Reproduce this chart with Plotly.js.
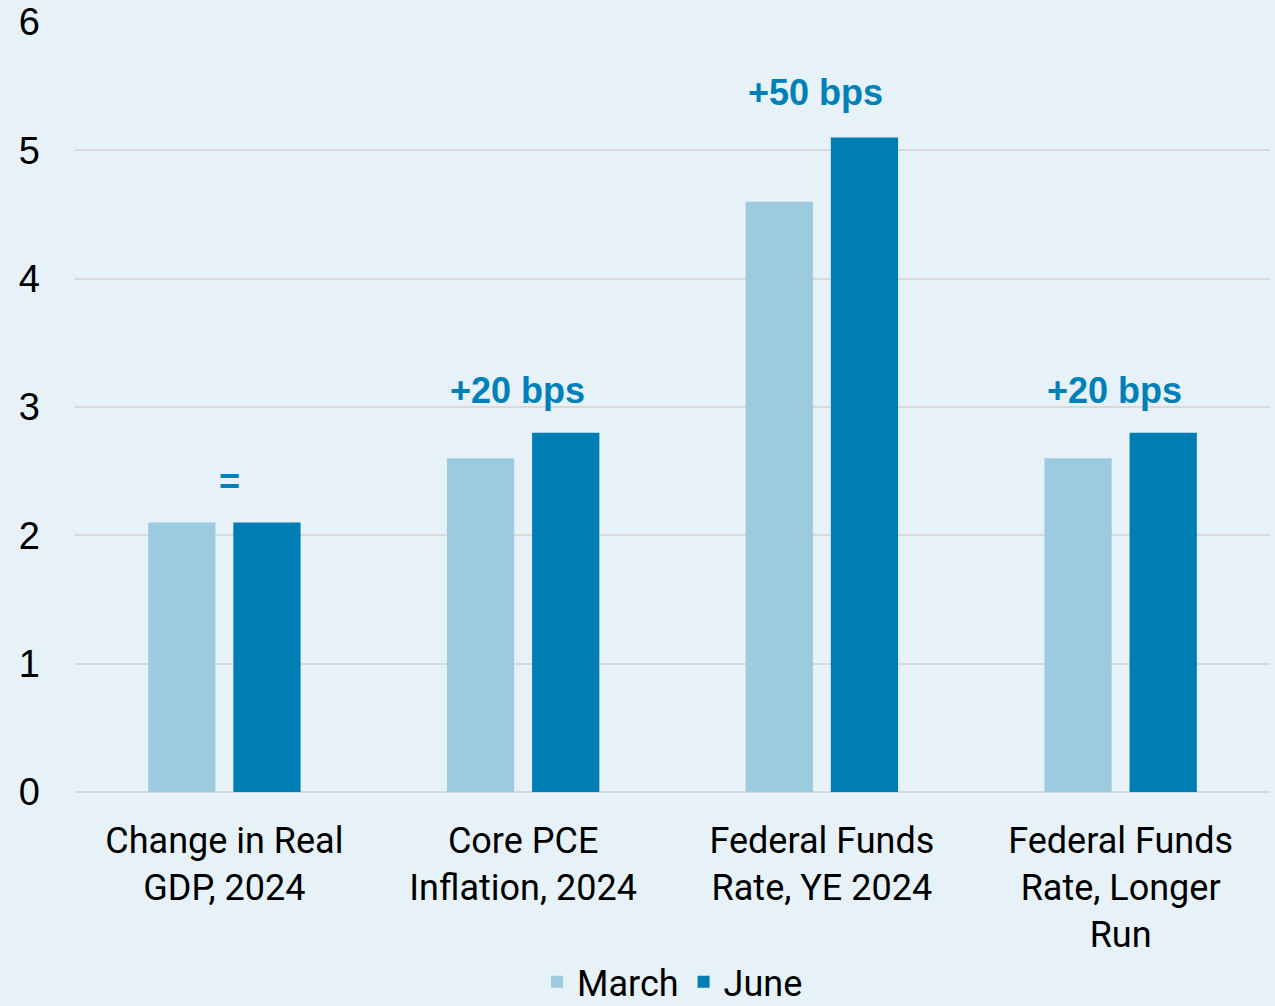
<!DOCTYPE html>
<html><head><meta charset="utf-8">
<script src="https://cdn.plot.ly/plotly-3.0.1.min.js"></script>
<style>html,body{margin:0;padding:0;background:#e6f1f8;}#chart{width:1275px;height:1006px;}</style>
</head><body><div id="chart"></div>
<script>
const categories = ["Change in Real<br>GDP, 2024","Core PCE<br>Inflation, 2024","Federal Funds<br>Rate, YE 2024","Federal Funds<br>Rate, Longer<br>Run"];
const march = [2.1, 2.6, 4.6, 2.6];
const june = [2.1, 2.8, 5.1, 2.8];
const changeLabels = ["=", "+20 bps", "+50 bps", "+20 bps"];
const labelY = [2.42, 3.13, 5.45, 3.13];

const traces = [
  {type:"bar", name:"March", x:categories, y:march, marker:{color:"#9ccbe0"}},
  {type:"bar", name:"June", x:categories, y:june, marker:{color:"#007db3"}}
];
const shifts = [5, -6, -6, -6];
const annotations = categories.map((c,i)=>({
  x:c, y:labelY[i], xref:"x", yref:"y", text:changeLabels[i], showarrow:false, xshift:shifts[i],
  yanchor:"middle", font:{family:"Liberation Sans, Arial", size:36, color:"#0080b8", weight:"bold"}
}));
const layout = {
  width:1275, height:1006,
  paper_bgcolor:"#e6f1f8", plot_bgcolor:"#e6f1f8",
  margin:{l:75, r:5, t:22, b:214},
  barmode:"group", bargap:0.43, bargroupgap:0.21,
  font:{family:"Roboto, sans-serif", color:"#000"},
  xaxis:{type:"category", showgrid:false, ticks:"", showline:false, zeroline:false,
    tickfont:{family:"Roboto, sans-serif", size:36, color:"#000"}, automargin:false, ticklabelstandoff:24},
  yaxis:{range:[0,6], dtick:1, showgrid:true, gridcolor:"#d9d9d9", gridwidth:2, zeroline:true, zerolinecolor:"#d9d9d9", zerolinewidth:2,
    tickfont:{family:"Liberation Sans, Arial", size:38, color:"#000"}, ticks:"", automargin:false, ticklabelstandoff:34},
  showlegend:true,
  legend:{orientation:"h", x:0.5, xanchor:"center", xref:"paper", yref:"container", y:0.024, yanchor:"middle",
    font:{family:"Roboto, sans-serif", size:36, color:"#000"}, bgcolor:"rgba(0,0,0,0)", itemwidth:30},
  annotations:annotations
};
Plotly.newPlot("chart", traces, layout, {displayModeBar:false});
</script></body></html>
